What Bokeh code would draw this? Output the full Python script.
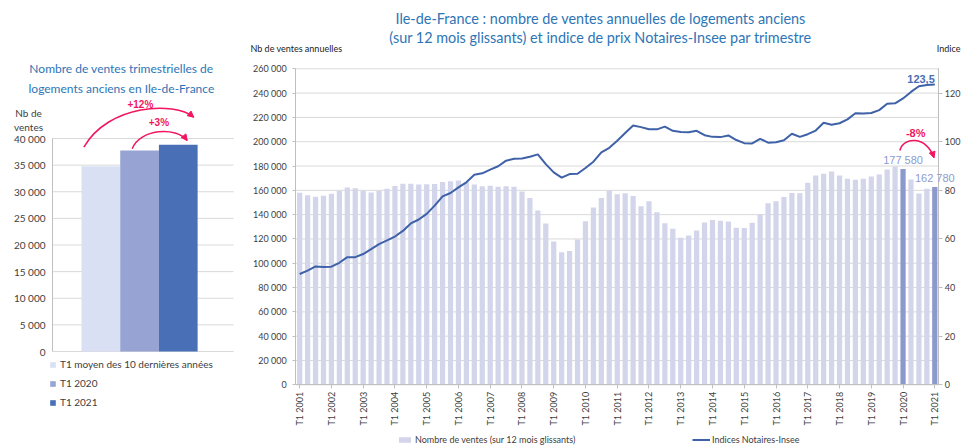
import math
from bokeh.plotting import figure
from bokeh.layouts import row
from bokeh.models import (Range1d, LinearAxis, FixedTicker, Label, Legend, LegendItem,
                          ColumnDataSource, Arrow, NormalHead)
from bokeh.embed import file_html
from bokeh.resources import INLINE

FONT = "Lato"
NUM_FONT = "Liberation Sans"
BLUE_TITLE = "#2E75B6"
PINK = "#F2165E"
GREY_TXT = "#404040"
GRID = "#D9D9D9"
AXIS = "#BFBFBF"
LIGHT_BAR = "#D3D6EB"
HL_BAR = "#8B99CC"
LINE_COL = "#3E61A8"

# ---------------- data: left chart ----------------
left_categories = ["T1 moyen des 10 dernières années", "T1 2020", "T1 2021"]
left_values = [34800, 37750, 38820]
left_colors = ["#DAE0F3", "#97A3D2", "#4970B6"]
left_ticks = [0, 5000, 10000, 15000, 20000, 25000, 30000, 35000, 40000]
left_title = ["Nombre de ventes trimestrielles de", "logements anciens en Ile-de-France"]
left_ylabel = ["Nb de", "ventes"]
left_changes = ["+12%", "+3%"]

# ---------------- data: main chart ----------------
quarters = [f"T{q} {y}" for y in range(2001, 2022) for q in range(1, 5)][:81]
sales = [
    158000, 156000, 154700, 155600,   # 2001
    157200, 159400, 162300, 161800,   # 2002
    159800, 158300, 159400, 161400,   # 2003
    163500, 165400, 165400, 164800,   # 2004
    165000, 165200, 166900, 167500,   # 2005
    168000, 166700, 164800, 163400,   # 2006
    163700, 162900, 163400, 162900,   # 2007
    159000, 153600, 143500, 132800,   # 2008
    118000, 109000, 110100, 119500,   # 2009
    134600, 145800, 153800, 159900,   # 2010
    156800, 157700, 155300, 147000,   # 2011
    151000, 142000, 133000, 128300,   # 2012
    121000, 122800, 127000, 133600,   # 2013
    135700, 134900, 134400, 129200,   # 2014
    129000, 133400, 140300, 149400,   # 2015
    151100, 154600, 157900, 157700,   # 2016
    166300, 172200, 173600, 175500,   # 2017
    172200, 169500, 168700, 169600,   # 2018
    171400, 173000, 177100, 179600,   # 2019
    177580, 168900, 157400, 161300,   # 2020
    162780,                           # 2021
]
index_values = [
    45.6, 47.0, 48.7, 48.5,
    48.6, 50.2, 52.5, 52.5,
    53.8, 55.8, 57.9, 59.4,
    61.0, 63.3, 66.4, 68.0,
    70.3, 73.7, 77.5, 78.9,
    81.2, 83.3, 86.4, 87.0,
    88.5, 89.9, 92.2, 93.0,
    93.1, 93.8, 94.8, 90.8,
    87.4, 85.2, 86.7, 86.8,
    89.2, 91.8, 95.6, 97.5,
    100.4, 103.6, 106.7, 106.0,
    105.1, 105.1, 106.2, 104.5,
    104.0, 103.9, 104.5, 102.7,
    102.0, 101.9, 102.6, 100.7,
    99.4, 99.3, 101.2, 99.6,
    99.8, 100.6, 103.3, 102.0,
    103.1, 104.6, 107.8, 107.0,
    107.6, 109.2, 111.7, 111.6,
    111.8, 113.0, 115.6, 115.8,
    117.8, 120.5, 122.8, 123.3,
    123.5,
]
highlight = ["T1 2020", "T1 2021"]
sales_ticks = [0, 20000, 40000, 60000, 80000, 100000, 120000, 140000,
               160000, 180000, 200000, 220000, 240000, 260000]
index_ticks = [0, 20, 40, 60, 80, 100, 120]
main_title = ["Ile-de-France : nombre de ventes annuelles de logements anciens",
              "(sur 12 mois glissants) et indice de prix Notaires-Insee par trimestre"]
sales_axis_name = "Nb de ventes annuelles"
index_axis_name = "Indice"
bar_series_name = "Nombre de ventes (sur 12 mois glissants)"
line_series_name = "Indices Notaires-Insee"
change_label = "-8%"


def fmt(v):
    return f"{v:,}".replace(",", " ")


def curved_arrow(p, x0, y0, cx0, cy0, cx1, cy1, x1, y1):
    p.bezier(x0=[x0], y0=[y0], x1=[x1], y1=[y1], cx0=[cx0], cy0=[cy0],
             cx1=[cx1], cy1=[cy1], line_color=PINK, line_width=1.5)
    xs = cx1 + 0.85 * (x1 - cx1)
    ys = cy1 + 0.85 * (y1 - cy1)
    p.add_layout(Arrow(end=NormalHead(size=6, fill_color=PINK, line_color=PINK, line_width=1),
                       x_start=xs, y_start=ys, x_end=x1, y_end=y1,
                       line_color=PINK, line_width=1.5))


def style_axis(ax, size):
    ax.major_label_text_font = FONT
    ax.major_label_text_font_size = size
    ax.major_label_text_color = GREY_TXT
    ax.axis_line_color = AXIS
    ax.major_tick_line_color = AXIS
    ax.minor_tick_line_color = None
    ax.major_tick_in = 0


H = 445

# ================= LEFT FIGURE (frame = whole canvas) =================
L_W = 238
L_PX_X = 38.7          # px per bar
L_PX_Y = 1 / 187.8     # px per sale
l_x0 = -1.25 - 52 / L_PX_X
l_y0 = -(H - 351) / L_PX_Y
pl = figure(width=L_W, height=H,
            x_range=Range1d(l_x0, l_x0 + L_W / L_PX_X),
            y_range=Range1d(l_y0, l_y0 + H / L_PX_Y),
            output_backend="svg", toolbar_location=None,
            x_axis_location=None, y_axis_location=None,
            min_border=0, min_border_left=0, min_border_right=0,
            min_border_top=0, min_border_bottom=0)
pl.outline_line_color = None
pl.xgrid.grid_line_color = None
pl.ygrid.grid_line_color = None

L_AXIS_X = -1.25
L_RIGHT = 3.43
pl.segment(x0=[L_AXIS_X] * len(left_ticks), x1=[L_RIGHT] * len(left_ticks),
           y0=left_ticks, y1=left_ticks, line_color=GRID, line_width=1)

la = LinearAxis(fixed_location=L_AXIS_X, ticker=FixedTicker(ticks=left_ticks),
                bounds=(0, left_ticks[-1]))
style_axis(la, "10px")
la.major_label_overrides = {t: fmt(t) for t in left_ticks}
la.major_tick_line_color = None
la.major_tick_out = 0
la.major_label_standoff = 7
pl.add_layout(la, "left")

left_renderers = []
for i, (val, col) in enumerate(zip(left_values, left_colors)):
    r = pl.vbar(x=[i], top=[val], width=1.0, fill_color=col, line_color=None)
    left_renderers.append(r)

leg_l = Legend(items=[LegendItem(label=c, renderers=[r]) for c, r in zip(left_categories, left_renderers)],
               location=(49, 37), orientation="vertical", glyph_width=7, glyph_height=7,
               label_standoff=4, spacing=7, label_height=12, padding=0, margin=0,
               background_fill_alpha=0, border_line_color=None,
               label_text_font=FONT, label_text_font_size="10px", label_text_color=GREY_TXT)
pl.add_layout(leg_l)

for k, line in enumerate(left_title):
    pl.add_layout(Label(x=0.53, y=53150 - k * 3760, text=line, text_align="center",
                        text_baseline="middle", text_font=FONT, text_font_size="12px",
                        text_color=BLUE_TITLE))
for k, line in enumerate(left_ylabel):
    pl.add_layout(Label(x=-1.87, y=44700 - k * 2630, text=line, text_align="center",
                        text_baseline="middle", text_font=FONT, text_font_size="10px",
                        text_color=GREY_TXT))

curved_arrow(pl, 0 - 0.44, left_values[0] + 3570, 0.2, 46500, 1.9, 47000, 2 + 0.40, left_values[2] + 5180)
curved_arrow(pl, 1 - 0.19, left_values[1] + 320, 1.0, 41800, 1.95, 42300, 2 + 0.23, left_values[2] + 810)
pl.add_layout(Label(x=1.02, y=46390, text=left_changes[0], text_align="center", text_baseline="middle",
                    text_font=NUM_FONT, text_font_size="10px", text_font_style="bold", text_color=PINK))
pl.add_layout(Label(x=1.50, y=42950, text=left_changes[1], text_align="center", text_baseline="middle",
                    text_font=NUM_FONT, text_font_size="10px", text_font_style="bold", text_color=PINK))

# ================= MAIN FIGURE (frame = whole canvas) =================
n = len(quarters)
M_W = 724
M_PX_X = 7.939           # px per quarter
M_PX_Y = 1 / 822.8       # px per sale
SCALE_RATIO = 2000       # sales units per index point
m_x0 = -0.5 - (295.2 - L_W) / M_PX_X
m_x1 = m_x0 + M_W / M_PX_X
m_y0 = -(H - 384.3) / M_PX_Y
m_y1 = m_y0 + H / M_PX_Y

colors = [HL_BAR if q in highlight else LIGHT_BAR for q in quarters]
src = ColumnDataSource(dict(x=list(range(n)), quarter=quarters, sales=sales,
                            idx=index_values, color=colors))

pm = figure(width=M_W, height=H,
            x_range=Range1d(m_x0, m_x1),
            y_range=Range1d(m_y0, m_y1),
            output_backend="svg", toolbar_location=None,
            x_axis_location=None, y_axis_location=None,
            min_border=0, min_border_left=0, min_border_right=0,
            min_border_top=0, min_border_bottom=0)
pm.extra_y_ranges = {"idx": Range1d(m_y0 / SCALE_RATIO, m_y1 / SCALE_RATIO)}
pm.outline_line_color = None
pm.xgrid.grid_line_color = None
pm.ygrid.grid_line_color = None

X_LEFT, X_RIGHT = -0.5, n - 0.5
pm.segment(x0=[X_LEFT] * len(sales_ticks), x1=[X_RIGHT] * len(sales_ticks),
           y0=sales_ticks, y1=sales_ticks, line_color=GRID, line_width=1)

bars = pm.vbar(x="x", top="sales", width=0.66, fill_color="color", line_color=None, source=src)
line = pm.line(x="x", y="idx", source=src, y_range_name="idx", line_color=LINE_COL, line_width=2)

tick_idx = [i for i, q in enumerate(quarters) if q.startswith("T1")]
xa = LinearAxis(fixed_location=0, ticker=FixedTicker(ticks=tick_idx), bounds=(X_LEFT, X_RIGHT))
style_axis(xa, "9px")
xa.major_label_overrides = {i: quarters[i] for i in tick_idx}
xa.major_label_orientation = math.pi / 2
xa.major_tick_out = 4
xa.major_label_standoff = 3
pm.add_layout(xa, "below")

yl = LinearAxis(fixed_location=X_LEFT, ticker=FixedTicker(ticks=sales_ticks),
                bounds=(0, sales_ticks[-1]))
style_axis(yl, "9px")
yl.major_label_overrides = {t: fmt(t) for t in sales_ticks}
yl.major_tick_out = 3
yl.major_label_standoff = 6
pm.add_layout(yl, "left")

ra = LinearAxis(fixed_location=X_RIGHT, y_range_name="idx", ticker=FixedTicker(ticks=index_ticks),
                bounds=(0, sales_ticks[-1] / SCALE_RATIO))
style_axis(ra, "9px")
ra.major_tick_out = 4
ra.major_label_standoff = 2
pm.add_layout(ra, "right")

for k, line_txt in enumerate(main_title):
    pm.add_layout(Label(x=37.9, y=301400 - k * 15630, text=line_txt, text_align="center",
                        text_baseline="middle", text_font=FONT, text_font_size="14.4px",
                        text_color=BLUE_TITLE))
pm.add_layout(Label(x=-6.2, y=276500, text=sales_axis_name, text_align="left", text_baseline="middle",
                    text_font=FONT, text_font_size="9px", text_color="#1A1A1A"))
pm.add_layout(Label(x=m_x1, y=276500, x_offset=-2, text=index_axis_name, text_align="right",
                    text_baseline="middle", text_font=FONT, text_font_size="9px",
                    text_color="#1A1A1A"))

for q in highlight:
    i = quarters.index(q)
    pm.add_layout(Label(x=i, y=sales[i], text=fmt(sales[i]), text_align="center",
                        text_baseline="bottom", y_offset=3, text_font=NUM_FONT,
                        text_font_size="11px", text_color="#8E9BD0"))
last = n - 1
pm.add_layout(Label(x=last, y=index_values[last], y_range_name="idx",
                    text=f"{index_values[last]}".replace(".", ","), text_align="right",
                    text_baseline="bottom", y_offset=2, text_font=NUM_FONT,
                    text_font_size="11px", text_font_style="bold", text_color="#4A6FB5"))

i20 = quarters.index(highlight[0])
i21 = quarters.index(highlight[1])
curved_arrow(pm, i20 - 0.4, sales[i20] + 15200, i20 + 0.0, 204500, i21 - 1.0, 205000,
             i21 - 0.1, sales[i21] + 24000)
pm.add_layout(Label(x=(i20 + i21) / 2 - 0.4, y=207000, text=change_label, text_align="center",
                    text_baseline="middle", text_font=NUM_FONT, text_font_size="11px",
                    text_font_style="bold", text_color=PINK))

leg1 = Legend(items=[LegendItem(label=bar_series_name, renderers=[bars])],
              location=(159, 0), glyph_width=15, glyph_height=7, label_standoff=3,
              label_height=12, padding=0, margin=0, background_fill_alpha=0,
              border_line_color=None, label_text_font=FONT, label_text_font_size="9px",
              label_text_color=GREY_TXT)
leg2 = Legend(items=[LegendItem(label=line_series_name, renderers=[line])],
              location=(454, 0), glyph_width=18, glyph_height=7, label_standoff=2,
              label_height=12, padding=0, margin=0, background_fill_alpha=0,
              border_line_color=None, label_text_font=FONT, label_text_font_size="9px",
              label_text_color=GREY_TXT)
pm.add_layout(leg1)
pm.add_layout(leg2)

layout = row(pl, pm)
open("out.html", "w").write(file_html(layout, INLINE))
